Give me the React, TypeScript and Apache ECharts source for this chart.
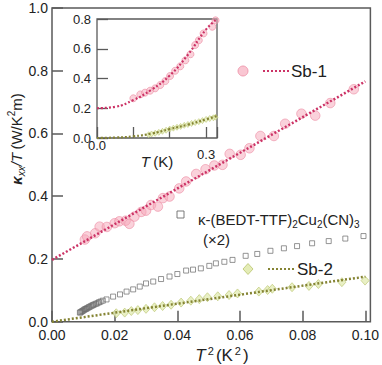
import React, { useEffect, useRef } from "react";
import * as echarts from "echarts";

// ---- Main panel data (x = T^2 in K^2, y = kappa_xx/T in W/K^2 m) ----
const sb1T2 = [0.0105, 0.0112, 0.0138, 0.0152, 0.0175, 0.0200, 0.0215, 0.0235, 0.0247, 0.0263, 0.0285, 0.0300, 0.0316, 0.0338, 0.0354, 0.0375, 0.0406, 0.0428, 0.0460, 0.0490, 0.0518, 0.0544, 0.0567, 0.0602, 0.0630, 0.0665, 0.0708, 0.0744, 0.0796, 0.0840, 0.0888, 0.0963];
const sb1K = [0.262, 0.272, 0.282, 0.303, 0.302, 0.314, 0.320, 0.322, 0.312, 0.335, 0.350, 0.354, 0.372, 0.367, 0.394, 0.399, 0.425, 0.447, 0.471, 0.486, 0.498, 0.500, 0.535, 0.532, 0.553, 0.592, 0.592, 0.631, 0.663, 0.657, 0.697, 0.741];
const sb1FitT2 = [0, 0.1];
const sb1FitK = [0.197, 0.766];

const sb2T2 = [0.0205, 0.0232, 0.0253, 0.0274, 0.0300, 0.0327, 0.0353, 0.0380, 0.0412, 0.0443, 0.0470, 0.0496, 0.0529, 0.0565, 0.0592, 0.0660, 0.0688, 0.0703, 0.0766, 0.0820, 0.0850, 0.0925, 0.0999];
const sb2K = [0.027, 0.029, 0.034, 0.037, 0.041, 0.046, 0.050, 0.054, 0.061, 0.067, 0.072, 0.078, 0.081, 0.085, 0.090, 0.096, 0.101, 0.105, 0.110, 0.114, 0.120, 0.126, 0.131];
const sb2FitT2 = [0, 0.1];
const sb2FitK = [0.0, 0.1435];

const bedtT2 = [0.0089, 0.0091, 0.0094, 0.0097, 0.0100, 0.0103, 0.0106, 0.0109, 0.0112, 0.0116, 0.0119, 0.0123, 0.0127, 0.0131, 0.0135, 0.0140, 0.0145, 0.0150, 0.0155, 0.0162, 0.0174, 0.0195, 0.0217, 0.0238, 0.0259, 0.0280, 0.0300, 0.0323, 0.0348, 0.0375, 0.0400, 0.0428, 0.0450, 0.0475, 0.0502, 0.0523, 0.0550, 0.0576, 0.0618, 0.0655, 0.0697, 0.0740, 0.0782, 0.0830, 0.0883, 0.0936, 0.0994];
const bedtK = [0.029, 0.030, 0.032, 0.034, 0.036, 0.038, 0.040, 0.041, 0.043, 0.045, 0.047, 0.049, 0.051, 0.053, 0.055, 0.057, 0.059, 0.062, 0.064, 0.067, 0.071, 0.080, 0.087, 0.096, 0.103, 0.112, 0.122, 0.128, 0.136, 0.144, 0.152, 0.163, 0.166, 0.170, 0.178, 0.186, 0.191, 0.197, 0.210, 0.216, 0.226, 0.234, 0.241, 0.250, 0.257, 0.265, 0.273];

// ---- Inset data (x = T in K) ----
const inSb1T = [0.100, 0.119, 0.132, 0.146, 0.160, 0.174, 0.188, 0.201, 0.215, 0.229, 0.243, 0.257, 0.270, 0.280, 0.293, 0.317, 0.326];
const inSb1K = [0.267, 0.293, 0.305, 0.318, 0.334, 0.356, 0.383, 0.417, 0.452, 0.482, 0.522, 0.563, 0.625, 0.657, 0.703, 0.748, 0.791];
const inSb1FitT = [0, 0.05, 0.1, 0.15, 0.2, 0.25, 0.3, 0.33];
const inSb1FitK = [0.2, 0.21, 0.255, 0.325, 0.42, 0.56, 0.73, 0.8];

const inSb2T = [0.142, 0.150, 0.160, 0.170, 0.180, 0.190, 0.200, 0.210, 0.220, 0.230, 0.240, 0.250, 0.260, 0.270, 0.280, 0.290, 0.300, 0.310, 0.320, 0.326];
const inSb2K = [0.022, 0.027, 0.032, 0.038, 0.045, 0.052, 0.060, 0.066, 0.072, 0.078, 0.085, 0.091, 0.098, 0.104, 0.110, 0.117, 0.125, 0.131, 0.136, 0.140];
const inSb2FitT = [0, 0.05, 0.1, 0.15, 0.2, 0.25, 0.3, 0.33];
const inSb2FitK = [0, 0.003, 0.011, 0.03, 0.06, 0.09, 0.125, 0.148];

const mainXTicks = ["0.00", "0.02", "0.04", "0.06", "0.08", "0.10"];

const zip = (a: number[], b: number[]) => a.map((v, i) => [v, b[i]]);

const FONT = "'Liberation Sans', Arial, sans-serif";
const PINK_FILL = "rgba(246,168,186,0.65)";
const PINK_BORDER = "#ec8aa2";
const PINK_LINE = "#cc3366";
const GREEN_FILL = "#e4ecb6";
const GREEN_BORDER = "#b9c46c";
const OLIVE_LINE = "#858434";
const AXIS = "#5a5a5a";

export default function App() {
  const ref = useRef<HTMLDivElement>(null);
  useEffect(() => {
    if (!ref.current) return;
    const chart = echarts.init(ref.current, undefined, { renderer: "svg" });
    const tickStyle = { color: AXIS, width: 1.5 };
    const option: any = {
      animation: false,
      textStyle: { fontFamily: FONT },
      grid: [
        { left: 52, top: 8, width: 320, height: 313.7, show: true, borderColor: AXIS, borderWidth: 1.5, backgroundColor: "transparent" },
        { left: 97, top: 19, width: 120, height: 119, show: true, borderColor: AXIS, borderWidth: 1.3, backgroundColor: "#fff" },
      ],
      xAxis: [
        {
          gridIndex: 0, type: "value", min: 0, max: 0.1016, interval: 0.02,
          axisLine: { show: false }, splitLine: { show: false },
          axisTick: { inside: true, length: 11, lineStyle: tickStyle },
          axisLabel: {
            margin: 6, color: "#222", fontSize: 14, fontFamily: FONT,
            showMaxLabel: false,
            formatter: (v: number) => {
              const k = Math.round(v / 0.02);
              return Math.abs(v - k * 0.02) < 1e-6 && k < mainXTicks.length ? mainXTicks[k] : "";
            },
          },
        },
        {
          gridIndex: 1, type: "value", min: 0, max: 0.33, interval: 0.1,
          axisLine: { show: false }, splitLine: { show: false },
          axisTick: { inside: true, length: 11, lineStyle: { color: AXIS, width: 1.3 } },
          axisLabel: {
            margin: 1, color: "#222", fontSize: 13, fontFamily: FONT,
            formatter: (v: number) => (v === 0 ? "{a|0.0}" : Math.abs(v - 0.3) < 1e-6 ? "{b|0.3}" : ""),
            rich: {
              a: { fontSize: 13, fontFamily: FONT, color: "#222" },
              b: { fontSize: 13, fontFamily: FONT, color: "#222", padding: [9, 0, 0, 0] },
            },
          },
        },
      ],
      yAxis: [
        {
          gridIndex: 0, type: "value", min: 0, max: 1.0, interval: 0.2,
          axisLine: { show: false }, splitLine: { show: false },
          axisTick: { inside: true, length: 11, lineStyle: tickStyle },
          axisLabel: { margin: 4, color: "#222", fontSize: 14, fontFamily: FONT, formatter: (v: number) => v.toFixed(1) },
        },
        {
          gridIndex: 1, type: "value", min: 0, max: 0.8, interval: 0.2,
          axisLine: { show: false }, splitLine: { show: false },
          axisTick: { inside: true, length: 11, lineStyle: { color: AXIS, width: 1.3 } },
          axisLabel: { margin: 6, color: "#222", fontSize: 13, fontFamily: FONT, formatter: (v: number) => v.toFixed(1) },
        },
      ],
      series: [
        {
          type: "scatter", xAxisIndex: 0, yAxisIndex: 0, data: zip(bedtT2, bedtK),
          symbol: "rect", symbolSize: 5,
          itemStyle: { color: "rgba(255,255,255,0)", borderColor: "#6b6b6b", borderWidth: 0.9 },
        },
        {
          type: "scatter", xAxisIndex: 0, yAxisIndex: 0, data: zip(sb2T2, sb2K),
          symbol: "diamond", symbolSize: [8, 9],
          itemStyle: { color: GREEN_FILL, borderColor: GREEN_BORDER, borderWidth: 0.8 },
        },
        {
          type: "scatter", xAxisIndex: 0, yAxisIndex: 0, data: zip(sb1T2, sb1K),
          symbol: "circle", symbolSize: 9.5,
          itemStyle: { color: PINK_FILL, borderColor: PINK_BORDER, borderWidth: 0.8 },
        },
        {
          type: "line", xAxisIndex: 0, yAxisIndex: 0, data: zip(sb2FitT2, sb2FitK),
          showSymbol: false, lineStyle: { color: OLIVE_LINE, width: 2.5, type: [2, 2] },
        },
        {
          type: "line", xAxisIndex: 0, yAxisIndex: 0, data: zip(sb1FitT2, sb1FitK),
          showSymbol: false, lineStyle: { color: PINK_LINE, width: 2.5, type: [2, 2] },
        },
        // inset
        {
          type: "scatter", xAxisIndex: 1, yAxisIndex: 1, data: zip(inSb2T, inSb2K),
          symbol: "diamond", symbolSize: [5, 6],
          itemStyle: { color: GREEN_FILL, borderColor: GREEN_BORDER, borderWidth: 0.7 },
        },
        {
          type: "scatter", xAxisIndex: 1, yAxisIndex: 1, data: zip(inSb1T, inSb1K),
          symbol: "circle", symbolSize: 7,
          itemStyle: { color: PINK_FILL, borderColor: PINK_BORDER, borderWidth: 0.8 },
        },
        {
          type: "line", xAxisIndex: 1, yAxisIndex: 1, data: zip(inSb2FitT, inSb2FitK), smooth: true,
          showSymbol: false, lineStyle: { color: OLIVE_LINE, width: 2.2, type: [2, 2] },
        },
        {
          type: "line", xAxisIndex: 1, yAxisIndex: 1, data: zip(inSb1FitT, inSb1FitK), smooth: true,
          showSymbol: false, lineStyle: { color: PINK_LINE, width: 2.2, type: [2, 2] },
        },
      ],
      graphic: [
        // Y title
        {
          type: "text", x: 16, y: 139, rotation: Math.PI / 2,
          style: {
            text: "{k|κ}{s|xx}{i|/T} {n|(W/K}{p|2}{n|m)}",
            align: "center", verticalAlign: "middle",
            rich: {
              k: { fontSize: 15, fontWeight: "bold", fontStyle: "italic", fontFamily: FONT, fill: "#222", lineHeight: 20 },
              s: { fontSize: 10, fontStyle: "italic", fontFamily: FONT, fill: "#222", verticalAlign: "bottom", lineHeight: 11 },
              i: { fontSize: 15, fontStyle: "italic", fontFamily: FONT, fill: "#222", lineHeight: 20 },
              n: { fontSize: 15, fontFamily: FONT, fill: "#222", lineHeight: 20 },
              p: { fontSize: 10, fontFamily: FONT, fill: "#222", verticalAlign: "top", lineHeight: 11 },
            },
          },
        },
        // X title
        {
          type: "text", x: 222, y: 355,
          style: {
            text: "{i|T}{p|2}{n|(K}{p|2}{n|)}",
            align: "center", verticalAlign: "middle",
            rich: {
              i: { fontSize: 17, fontStyle: "italic", fontFamily: FONT, fill: "#222", lineHeight: 19 },
              n: { fontSize: 17, fontFamily: FONT, fill: "#222", lineHeight: 19 },
              p: { fontSize: 11, fontFamily: FONT, fill: "#222", verticalAlign: "top", lineHeight: 11, padding: [0, 2, 0, 2] },
            },
          },
        },
        // inset x title
        {
          type: "text", x: 157, y: 161,
          style: {
            text: "{i|T} {n|(K)}",
            align: "center", verticalAlign: "middle",
            rich: {
              i: { fontSize: 15, fontStyle: "italic", fontFamily: FONT, fill: "#222" },
              n: { fontSize: 15, fontFamily: FONT, fill: "#222" },
            },
          },
        },
        // Legend Sb-1
        { type: "circle", shape: { cx: 243, cy: 71, r: 5 }, style: { fill: PINK_FILL, stroke: PINK_BORDER, lineWidth: 0.8 } },
        { type: "line", shape: { x1: 263, y1: 71, x2: 289, y2: 71 }, style: { stroke: PINK_LINE, lineWidth: 2.2, lineDash: [2, 2] } },
        { type: "text", x: 291, y: 71, style: { text: "Sb-1", fontSize: 17, fontFamily: FONT, fill: "#222", align: "left", verticalAlign: "middle" } },
        // Legend BEDT
        { type: "rect", shape: { x: 177, y: 211, width: 7, height: 7 }, style: { fill: "#fff", stroke: "#6b6b6b", lineWidth: 0.9 } },
        {
          type: "text", x: 198, y: 219,
          style: {
            text: "{n|κ-(BEDT-TTF)}{s|2}{n|Cu}{s|2}{n|(CN)}{s|3}",
            align: "left", verticalAlign: "middle",
            rich: {
              n: { fontSize: 15, fontFamily: FONT, fill: "#222", lineHeight: 20 },
              s: { fontSize: 10, fontFamily: FONT, fill: "#222", verticalAlign: "bottom", lineHeight: 10 },
            },
          },
        },
        { type: "text", x: 203, y: 239, style: { text: "(×2)", fontSize: 15, fontFamily: FONT, fill: "#222", align: "left", verticalAlign: "middle" } },
        // Legend Sb-2
        { type: "polygon", shape: { points: [[248, 263.5], [253, 269], [248, 274.5], [243, 269]] }, style: { fill: GREEN_FILL, stroke: GREEN_BORDER, lineWidth: 0.8 } },
        { type: "line", shape: { x1: 268, y1: 269, x2: 295, y2: 269 }, style: { stroke: OLIVE_LINE, lineWidth: 2.2, lineDash: [2, 2] } },
        { type: "text", x: 297, y: 269, style: { text: "Sb-2", fontSize: 17, fontFamily: FONT, fill: "#222", align: "left", verticalAlign: "middle" } },
      ],
    };
    chart.setOption(option);
    return () => chart.dispose();
  }, []);
  return <div ref={ref} style={{ width: 382, height: 365, position: "absolute", left: 0, top: 0 }} />;
}
